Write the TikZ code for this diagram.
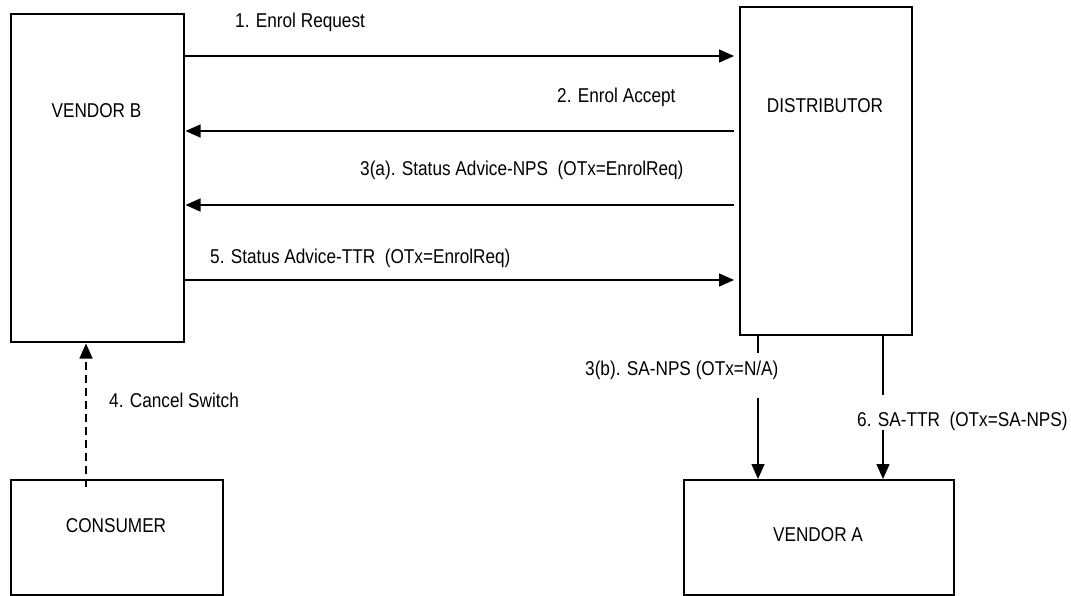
\documentclass[tikz,border=0pt]{standalone}
\usepackage{fontspec}
\setmainfont[FakeStretch=0.86]{Liberation Sans}
\usetikzlibrary{arrows.meta}
\begin{document}
\begin{tikzpicture}[x=1pt,y=-1pt,
  box/.style={draw,line width=1.5pt,inner sep=0pt,anchor=north west},
  txt/.style={inner sep=0pt,font=\fontsize{20}{24}\selectfont},
  arr/.style={line width=1.5pt,-{Triangle[length=15pt,width=13pt]}},
  darr/.style={arr,dash pattern=on 8pt off 5pt}]
\useasboundingbox (0,0) rectangle (1071,595);
% boxes
\node[box,minimum width=173pt,minimum height=328pt] (vb) at (10,13) {};
\node[box,minimum width=172pt,minimum height=328pt] (dist) at (739,6) {};
\node[box,minimum width=212pt,minimum height=115pt] (cons) at (10,479) {};
\node[box,minimum width=270pt,minimum height=115pt] (va) at (683,479) {};
% box texts
\node[txt,anchor=base] (tvb) at (96.5,117) {VENDOR B};
\node[txt,anchor=base] (tdist) at (825,112) {DISTRIBUTOR};
\node[txt,anchor=base] (tcons) at (116,532) {CONSUMER};
\node[txt,anchor=base] (tva) at (818,541) {VENDOR A};
% horizontal arrows
\draw[arr,shorten >=5pt] (vb.east |- {(0,56)}) -- (dist.west |- {(0,56)});
\draw[arr,shorten <=5pt,shorten >=1pt] (dist.west |- {(0,131)}) -- (vb.east |- {(0,131)});
\draw[arr,shorten <=5pt,shorten >=1pt] (dist.west |- {(0,205)}) -- (vb.east |- {(0,205)});
\draw[arr,shorten >=5pt] (vb.east |- {(0,280)}) -- (dist.west |- {(0,280)});
% dashed arrow
\draw[darr,shorten <=-8pt,shorten >=1pt] (cons.north -| {(86,0)}) -- (vb.south -| {(86,0)});
% vertical arrows
\draw[arr] (dist.south -| {(758,0)}) -- (va.north -| {(758,0)});
\draw[arr] (dist.south -| {(883,0)}) -- (va.north -| {(883,0)});
% labels
\node[txt,anchor=base west] (l1) at (235,27) {1. Enrol Request};
\node[txt,anchor=base west] (l2) at (557,102) {2. Enrol Accept};
\node[txt,anchor=base west] (l3a) at (360,175) {3(a). Status Advice-NPS\ \ (OTx=EnrolReq)};
\node[txt,anchor=base west] (l5) at (210,263) {5. Status Advice-TTR\ \ (OTx=EnrolReq)};
\node[txt,anchor=base west] (l4) at (109,407) {4. Cancel Switch};
\node[txt,anchor=base west,fill=white,text height=22pt,text depth=23pt] (l3b) at (585,375) {3(b). SA-NPS (OTx=N/A)};
\node[txt,anchor=base west,fill=white,text height=31pt,text depth=4pt] (l6) at (857,426) {6. SA-TTR\ \ (OTx=SA-NPS)};
\end{tikzpicture}
\end{document}
